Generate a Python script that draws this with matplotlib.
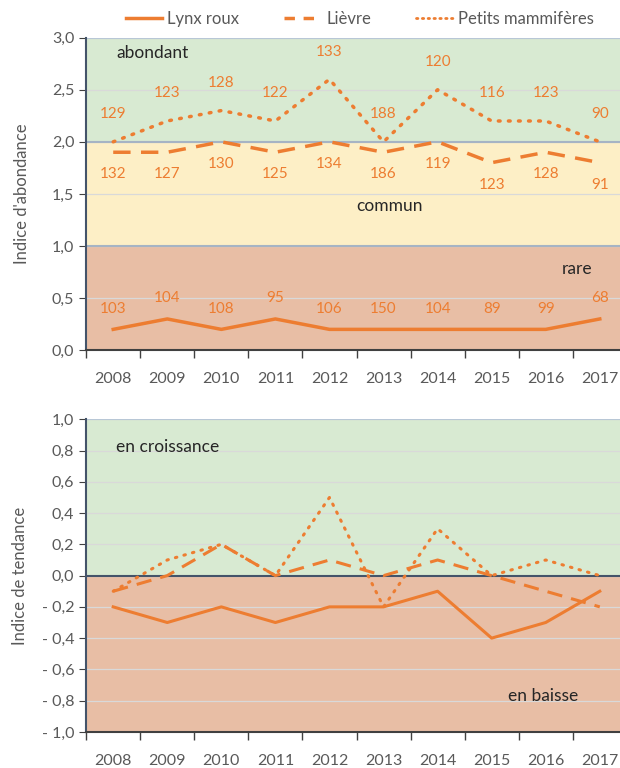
import numpy as np
import matplotlib
matplotlib.use('Agg')
import matplotlib.pyplot as plt
from matplotlib.lines import Line2D

plt.rcParams['font.family'] = ['Lato', 'DejaVu Sans']

annees = ['2008', '2009', '2010', '2011', '2012', '2013', '2014', '2015', '2016', '2017']

# indices d'abondance
abond_lynx = [0.2, 0.3, 0.2, 0.3, 0.2, 0.2, 0.2, 0.2, 0.2, 0.3]
abond_lievre = [1.9, 1.9, 2.0, 1.9, 2.0, 1.9, 2.0, 1.8, 1.9, 1.8]
abond_petits = [2.0, 2.2, 2.3, 2.2, 2.6, 2.0, 2.5, 2.2, 2.2, 2.0]

# nombre d'observations
n_lynx = [103, 104, 108, 95, 106, 150, 104, 89, 99, 68]
n_lievre = [132, 127, 130, 125, 134, 186, 119, 123, 128, 91]
n_petits = [129, 123, 128, 122, 133, 188, 120, 116, 123, 90]

# indices de tendance
tend_lynx = [-0.2, -0.3, -0.2, -0.3, -0.2, -0.2, -0.1, -0.4, -0.3, -0.1]
tend_lievre = [-0.1, 0.0, 0.2, 0.0, 0.1, 0.0, 0.1, 0.0, -0.1, -0.2]
tend_petits = [-0.1, 0.1, 0.2, 0.0, 0.5, -0.2, 0.3, 0.0, 0.1, 0.0]

orange = '#ed7d31'
vert = '#d8ead2'
jaune = '#fdefc6'
saumon = '#e8bea5'
gris = '#595959'

fig = plt.figure(figsize=(6.2, 7.68), dpi=100)
ax1 = fig.add_axes([0.139, 0.544, 0.872, 0.407])
ax2 = fig.add_axes([0.139, 0.047, 0.872, 0.407])

x = np.arange(len(annees))


def habiller(ax, ymin, ymax, pas):
    ax.set_xlim(-0.5, len(annees) - 0.5)
    ax.set_ylim(ymin, ymax)
    ax.set_xticks(np.arange(-0.5, len(annees) + 0.5, 1))
    ax.set_xticklabels([])
    ax.set_xticks(x, minor=True)
    ax.set_xticklabels(annees, minor=True)
    ax.tick_params(axis='x', which='major', direction='out', length=6, color='#404040', width=1)
    ax.tick_params(axis='x', which='minor', length=0, pad=16, labelsize=11.5, labelcolor=gris)
    ticks = np.round(np.arange(ymin, ymax + pas / 2, pas), 2)
    ax.set_yticks(ticks)
    lab = []
    for t in ticks:
        s = f'{abs(t):.1f}'.replace('.', ',')
        lab.append('- ' + s if t < -1e-9 else s)
    ax.set_yticklabels(lab)
    ax.tick_params(axis='y', direction='out', length=5, color='#404040', labelsize=11.5, labelcolor=gris)
    for t in ticks:
        ax.axhline(t, color='#d9d9d9', lw=0.9, zorder=1)
    for s in ['top', 'right']:
        ax.spines[s].set_visible(False)
    ax.spines['left'].set_color('#44546a')
    ax.spines['left'].set_linewidth(1.5)
    ax.spines['bottom'].set_color('#404040')
    ax.spines['bottom'].set_linewidth(1.5)


# --- panneau abondance ---
ax1.axhspan(2, 3, color=vert, zorder=0, lw=0)
ax1.axhspan(1, 2, color=jaune, zorder=0, lw=0)
ax1.axhspan(0, 1, color=saumon, zorder=0, lw=0)
habiller(ax1, 0, 3, 0.5)
for v in [1, 2]:
    ax1.axhline(v, color='#a6b4c4', lw=1.5, zorder=1.5)
ax1.axhline(3, color='#b8c7d6', lw=1.5, zorder=1.5)

ax1.plot(x, abond_lynx, color=orange, lw=2.5, zorder=3)
ax1.plot(x, abond_lievre, color=orange, lw=2.5, ls=(0, (5, 3)), zorder=3)
ax1.plot(x, abond_petits, color=orange, lw=2.5, ls=(0, (0.5, 2.4)), dash_capstyle='round', zorder=3)

for xi, v, n in zip(x, abond_lynx, n_lynx):
    ax1.annotate(str(n), (xi, v), xytext=(0, 15), textcoords='offset points',
                 ha='center', va='center', color=orange, fontsize=11)
for xi, v, n in zip(x, abond_lievre, n_lievre):
    ax1.annotate(str(n), (xi, v), xytext=(0, -16), textcoords='offset points',
                 ha='center', va='center', color=orange, fontsize=11)
for xi, v, n in zip(x, abond_petits, n_petits):
    ax1.annotate(str(n), (xi, v), xytext=(0, 20), textcoords='offset points',
                 ha='center', va='center', color=orange, fontsize=11)

ax1.text(0.05, 2.85, 'abondant', fontsize=12.5, color='#262626', va='center')
ax1.text(4.5, 1.38, 'commun', fontsize=12.5, color='#262626', va='center')
ax1.text(8.3, 0.78, 'rare', fontsize=12.5, color='#262626', va='center')
ax1.set_ylabel("Indice d'abondance", fontsize=12, color=gris, labelpad=16)

# --- panneau tendance ---
ax2.axhspan(0, 1, color=vert, zorder=0, lw=0)
ax2.axhspan(-1, 0, color=saumon, zorder=0, lw=0)
habiller(ax2, -1, 1, 0.2)
ax2.axhline(0, color='#44546a', lw=1.5, zorder=1.5)
ax2.axhline(1, color='#b8c7d6', lw=1.5, zorder=1.5)

ax2.plot(x, tend_lynx, color=orange, lw=2.2, zorder=3)
ax2.plot(x, tend_lievre, color=orange, lw=2.2, ls=(0, (5, 3)), zorder=3)
ax2.plot(x, tend_petits, color=orange, lw=2.2, ls=(0, (0.5, 2.4)), dash_capstyle='round', zorder=3)

ax2.text(0.05, 0.82, 'en croissance', fontsize=12.5, color='#262626', va='center')
ax2.text(7.3, -0.77, 'en baisse', fontsize=12.5, color='#262626', va='center')
ax2.set_ylabel('Indice de tendance', fontsize=12, color=gris, labelpad=10)

# --- légende ---
poignees = [
    Line2D([], [], color=orange, lw=2.5),
    Line2D([], [], color=orange, lw=2.5, ls=(0, (3, 2.5))),
    Line2D([], [], color=orange, lw=2.0, ls=(0, (0.5, 1.6)), dash_capstyle='round'),
]
fig.legend(poignees, ['Lynx roux', 'Lièvre', 'Petits mammifères'], loc='upper center',
           bbox_to_anchor=(0.58, 1.005), ncol=3, frameon=False, fontsize=12,
           handlelength=2.2, handletextpad=0.3, columnspacing=2.7,
           labelcolor=gris)

fig.savefig('out.png', dpi=100)
